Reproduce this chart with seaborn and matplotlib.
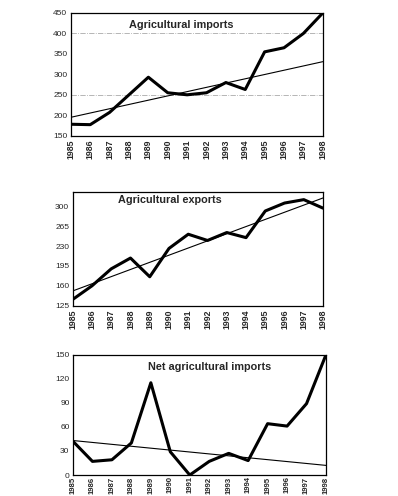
import numpy as np
import pandas as pd
import matplotlib
matplotlib.use("Agg")
from matplotlib import pyplot as plt
import seaborn as sns

# data
years = list(range(1985, 1999))
imports = [178, 177, 207, 250, 293, 255, 250, 255, 280, 263, 355, 365, 400, 450]
exports = [136, 160, 190, 209, 176, 226, 251, 240, 254, 245, 292, 306, 312, 297]
net_imports = [42, 17, 19, 40, 115, 29, 0, 17, 27, 18, 64, 61, 89, 150]

# trend lines (start / end values)
trend_years = [1985, 1998]
trend_imports = [195, 331]
trend_exports = [151, 315]
trend_net = [43, 12]

titles = ['Agricultural imports', 'Agricultural exports', 'Net agricultural imports']
yticks_imp = [150, 200, 250, 300, 350, 400, 450]
yticks_exp = [125, 160, 195, 230, 265, 300]
yticks_net = [0, 30, 60, 90, 120, 150]

sns.set_style("white")
plt.rcParams['font.family'] = ['Liberation Sans', 'DejaVu Sans']

fig = plt.figure(figsize=(3.98, 4.96), dpi=100)

ax1 = fig.add_axes([0.178, 0.7264, 0.633, 0.2474])
ax2 = fig.add_axes([0.1827, 0.3837, 0.629, 0.2298])
ax3 = fig.add_axes([0.1834, 0.0423, 0.6357, 0.2426])

panels = [
    (ax1, imports, trend_imports, yticks_imp, (150, 450), titles[0], (0.44, 0.90)),
    (ax2, exports, trend_exports, yticks_exp, (125, 326), titles[1], (0.39, 0.93)),
    (ax3, net_imports, trend_net, yticks_net, (0, 150), titles[2], (0.54, 0.90)),
]

for ax, vals, trend, yt, ylim, title, tpos in panels:
    sns.lineplot(x=years, y=vals, ax=ax, color='black', linewidth=2.2)
    sns.lineplot(x=trend_years, y=trend, ax=ax, color='black', linewidth=0.8)
    ax.set_xlim(1985, 1998)
    ax.set_ylim(*ylim)
    ax.set_xticks(years)
    ax.set_xticklabels([str(y) for y in years], rotation=90, fontsize=6.3, fontweight='bold')
    ax.set_yticks(yt)
    ax.set_yticklabels([str(v) for v in yt], fontsize=6)
    ax.tick_params(axis='both', length=0, pad=2.5)
    for s in ax.spines.values():
        s.set_color('black')
        s.set_linewidth(0.9)
    ax.text(tpos[0], tpos[1], title, transform=ax.transAxes, ha='center', va='center',
            fontsize=7.8, fontweight='bold')
    ax.set_xlabel('')
    ax.set_ylabel('')

# bottom chart: keep year labels inside the figure
ax3.tick_params(axis='x', pad=1, labelsize=5.6)

# faint gridlines visible in top chart
for yv in [250, 400]:
    ax1.axhline(yv, color='#aaaaaa', linewidth=0.6, linestyle='-.', zorder=0)

fig.savefig('out.png', dpi=100)
